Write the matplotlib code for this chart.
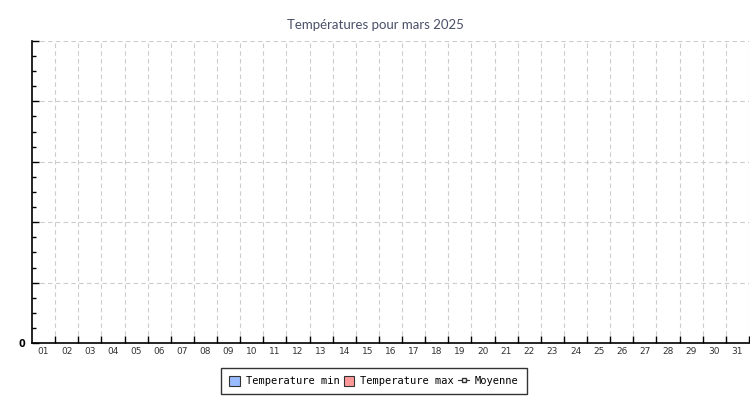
import matplotlib
matplotlib.use("Agg")
import matplotlib.pyplot as plt
import numpy as np
from matplotlib.ticker import MultipleLocator, FixedLocator, NullFormatter
from matplotlib.patches import Patch
from matplotlib.lines import Line2D

# jours du mois - aucune mesure disponible
days = ["%02d" % d for d in range(1, 32)]
temp_min = [np.nan] * 31
temp_max = [np.nan] * 31
moyenne = [np.nan] * 31

fig = plt.figure(figsize=(7.5, 4), dpi=100)
ax = fig.add_axes([32 / 750, 1 - 343 / 400, 717 / 750, 302 / 400])

x = np.arange(len(days))
w = 0.35
ax.bar(x - w / 2, np.nan_to_num(temp_min), w, color="#99bbff", edgecolor="#333333", linewidth=0.6)
ax.bar(x + w / 2, np.nan_to_num(temp_max), w, color="#ff9999", edgecolor="#333333", linewidth=0.6)
ax.plot(x, moyenne, color="#333333", marker="s", markersize=3, markerfacecolor="white", linewidth=0.8)

ax.set_xlim(-0.5, len(days) - 0.5)
ax.set_ylim(0, 5)

# x : traits aux limites des jours, etiquettes au centre
ax.xaxis.set_major_locator(FixedLocator(np.arange(0.5, len(days), 1.0)))
ax.xaxis.set_major_formatter(NullFormatter())
ax.xaxis.set_minor_locator(FixedLocator(x))
ax.set_xticklabels(days, minor=True)
ax.tick_params(axis="x", which="major", direction="in", length=5, width=1, color="black")
ax.tick_params(axis="x", which="minor", length=0, pad=3, labelsize=6.5, labelcolor="#333333")

# y : seul 0 est affiche
ax.set_yticks(np.arange(0, 6, 1))
ax.set_yticklabels(["0", "", "", "", "", ""])
ax.yaxis.set_minor_locator(MultipleLocator(0.25))
ax.tick_params(axis="y", which="major", direction="in", length=5, width=1, labelsize=7, pad=5)
ax.tick_params(axis="y", which="minor", direction="in", length=3, width=1)
for lab in ax.get_yticklabels():
    lab.set_fontweight("bold")

ax.grid(True, which="major", color="#cccccc", linestyle=(0, (4, 3)), linewidth=0.8)
ax.set_axisbelow(True)
for s in ["top", "right"]:
    ax.spines[s].set_visible(False)
ax.spines["left"].set_linewidth(1.2)
ax.spines["bottom"].set_linewidth(1.2)

fig.text(0.5, 1 - 25 / 400, "Températures pour mars 2025", ha="center", va="center",
         fontsize=9.5, color="#4a5068", family="Lato")

handles = [
    Patch(facecolor="#99bbff", edgecolor="#333333", linewidth=0.8, label="Temperature min"),
    Patch(facecolor="#ff9999", edgecolor="#333333", linewidth=0.8, label="Temperature max"),
    Line2D([], [], color="#333333", marker="s", markersize=3, markerfacecolor="white",
           linewidth=0.8, label="Moyenne"),
]
leg = fig.legend(handles=handles, loc="center", bbox_to_anchor=(374 / 750, 1 - 381 / 400),
                 ncol=3, frameon=True, fancybox=False, edgecolor="black",
                 prop={"family": "DejaVu Sans Mono", "size": 7.5},
                 handlelength=1.0, handleheight=1.1, handletextpad=0.6, columnspacing=0.4,
                 borderpad=0.75)
leg.get_frame().set_linewidth(1.0)

fig.savefig("out.png", dpi=100)
